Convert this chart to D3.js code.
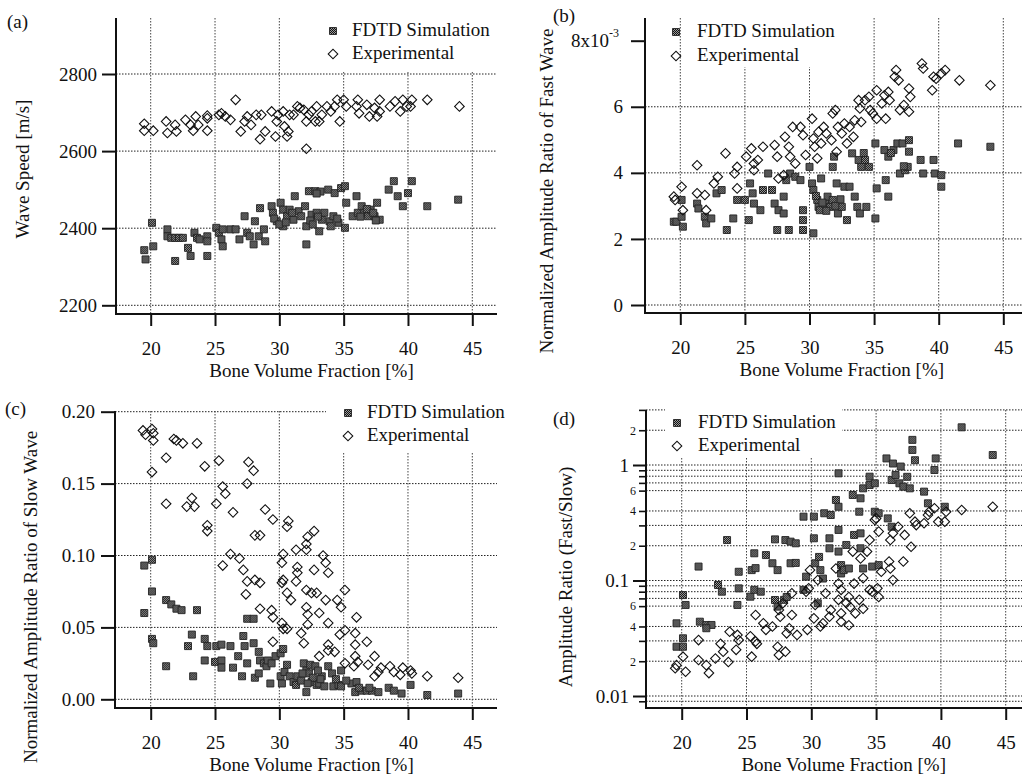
<!DOCTYPE html>
<html><head><meta charset="utf-8">
<script src="https://cdn.jsdelivr.net/npm/d3@7"></script>
<style>
body{margin:0;background:#fff;}
svg{display:block;}
</style></head><body>
<svg id="c" width="1022" height="776"></svg>
<script>
// ---------- data ----------
const xTicks = [20, 25, 30, 35, 40, 45];
const seriesNames = ["FDTD Simulation", "Experimental"];
const xTitle = "Bone Volume Fraction [%]";

// (a) wave speed [m/s]
const aYTicks = [2200, 2400, 2600, 2800];
const aSim = [[19.5,2343],[19.6,2319],[20.1,2414],[20.2,2353],[21.3,2397],[21.3,2379],[21.6,2375],[21.9,2375],[22.2,2375],[22.5,2375],[21.9,2315],[22.9,2349],[23.1,2328],[23.4,2388],[23.6,2375],[23.8,2371],[24.4,2379],[24.4,2366],[24.4,2328],[25.1,2401],[25.3,2388],[25.5,2371],[25.6,2353],[25.6,2397],[26.2,2397],[26.6,2397],[26.9,2371],[27.3,2431],[27.5,2388],[27.7,2379],[28.0,2358],[28.1,2418],[28.5,2452],[28.4,2379],[28.8,2397],[28.9,2366],[29.4,2457],[29.5,2440],[29.8,2418],[30.1,2466],[30.3,2448],[30.3,2405],[30.6,2431],[30.8,2448],[31.1,2422],[31.2,2483],[31.5,2444],[31.7,2431],[32.0,2457],[32.1,2358],[32.1,2405],[32.3,2496],[32.5,2435],[32.8,2496],[32.9,2440],[33.1,2392],[33.3,2422],[33.5,2440],[33.8,2500],[33.9,2418],[34.2,2431],[34.3,2491],[34.6,2414],[34.8,2504],[35.1,2509],[35.1,2401],[35.2,2466],[35.7,2431],[36.0,2483],[36.1,2440],[36.4,2457],[36.6,2440],[36.9,2431],[37.1,2448],[37.4,2431],[37.6,2466],[37.8,2422],[38.5,2500],[38.9,2522],[39.2,2483],[39.6,2457],[40.0,2491],[40.3,2522],[41.5,2457],[43.9,2474],[29.6,2425],[30.0,2410],[30.5,2415],[31.0,2440],[32.4,2420],[32.6,2410],[33.0,2430],[34.0,2405],[34.5,2425],[36.3,2430],[36.8,2450],[37.3,2440],[37.5,2420],[33.2,2495],[32.9,2490]];
const aExp = [[19.5,2671],[19.5,2653],[20.2,2653],[21.2,2677],[21.3,2647],[21.9,2668],[22.0,2651],[22.7,2681],[23.1,2668],[23.3,2653],[23.5,2690],[23.7,2668],[24.4,2685],[24.4,2653],[24.4,2692],[25.3,2694],[25.5,2698],[25.8,2690],[26.2,2681],[26.6,2733],[27.0,2651],[27.3,2677],[27.5,2690],[27.8,2668],[28.2,2694],[28.6,2694],[28.5,2631],[28.9,2651],[29.4,2703],[29.7,2638],[29.8,2677],[29.9,2694],[30.3,2703],[30.4,2664],[30.6,2638],[30.7,2651],[30.8,2694],[31.1,2694],[31.4,2716],[31.6,2712],[31.9,2707],[32.1,2677],[32.1,2606],[32.3,2694],[32.5,2703],[32.8,2677],[32.9,2716],[33.1,2677],[33.3,2694],[33.7,2716],[34.0,2703],[34.3,2716],[34.5,2733],[34.7,2677],[35.0,2733],[35.2,2716],[36.0,2716],[36.1,2733],[36.2,2698],[36.8,2720],[37.0,2690],[37.4,2712],[37.6,2690],[37.8,2733],[37.8,2703],[38.6,2716],[39.0,2729],[39.4,2703],[39.6,2733],[39.9,2716],[40.3,2733],[40.2,2716],[41.5,2733],[44.0,2716]];

// (b) normalized amplitude ratio of fast wave, in units of 10^-3
const bYTicks = [0, 2, 4, 6, 8];
const bSim = [[19.5,2.52],[19.7,2.52],[20.1,3.18],[20.1,2.67],[20.2,2.37],[21.3,3.07],[21.4,2.92],[21.9,2.67],[22.0,2.47],[22.4,2.62],[22.8,3.38],[23.2,3.48],[23.6,2.27],[24.1,2.62],[24.4,3.18],[25.0,3.18],[25.3,2.57],[25.4,3.68],[25.6,3.38],[25.7,3.07],[26.2,2.87],[26.4,3.48],[26.8,3.98],[27.1,3.48],[27.3,3.07],[27.6,2.87],[28.0,2.77],[27.5,2.27],[28.0,3.28],[28.2,3.78],[28.4,2.27],[28.5,3.98],[28.9,3.88],[29.3,3.78],[29.5,2.87],[29.5,2.57],[29.5,2.27],[30.0,4.18],[30.2,3.68],[30.3,3.48],[30.3,2.17],[30.6,3.18],[30.7,2.97],[30.8,2.87],[30.9,3.83],[31.2,3.07],[31.4,3.28],[31.6,2.97],[31.8,3.18],[31.8,4.18],[31.9,4.49],[32.1,3.68],[32.2,2.77],[32.5,2.97],[32.7,3.58],[33.1,3.58],[32.9,2.57],[33.3,4.59],[33.5,3.28],[33.7,2.97],[33.9,2.77],[33.8,4.39],[34.0,4.18],[34.3,4.39],[34.6,4.18],[34.4,2.97],[35.1,4.89],[35.1,2.62],[35.2,3.53],[35.8,4.69],[36.1,4.49],[35.9,3.78],[36.1,3.28],[36.5,4.69],[36.8,4.89],[37.2,4.89],[37.0,3.98],[37.4,4.08],[37.6,4.18],[37.7,4.99],[37.7,4.64],[38.6,4.39],[38.8,3.98],[39.6,4.39],[39.7,3.98],[40.2,3.93],[40.2,3.58],[41.5,4.89],[44.0,4.79],[30.5,3.3],[31.0,3.1],[31.3,2.85],[32.0,3.0],[32.4,3.2],[34.2,4.6],[36.3,4.6],[37.3,4.2]];
const bExp = [[19.5,3.28],[19.6,3.18],[20.1,3.58],[20.2,2.87],[21.3,4.23],[21.3,3.38],[21.9,3.33],[22.0,2.87],[22.6,3.68],[22.9,3.88],[23.5,4.59],[24.2,3.98],[24.4,4.18],[24.4,3.53],[25.1,4.49],[25.5,4.74],[25.7,4.28],[25.7,4.08],[26.0,4.39],[26.4,4.79],[27.3,4.84],[27.5,4.49],[27.6,3.83],[28.0,3.93],[28.1,5.09],[28.4,4.79],[28.5,4.49],[28.7,5.39],[28.9,4.28],[29.3,5.39],[29.5,5.14],[29.7,4.54],[30.2,5.64],[30.3,5.04],[30.4,4.79],[30.6,4.44],[30.7,5.24],[30.9,4.89],[31.1,5.39],[31.3,5.19],[31.7,4.99],[31.8,5.80],[32.0,5.90],[32.1,4.64],[32.2,5.39],[32.5,5.19],[32.7,5.49],[32.9,4.89],[33.1,5.39],[33.4,5.09],[33.5,5.59],[33.8,6.20],[33.9,5.95],[34.0,5.54],[34.3,6.20],[34.6,6.30],[34.7,5.90],[34.9,5.80],[35.2,5.64],[35.2,6.50],[35.6,6.10],[35.8,6.35],[36.1,6.45],[35.9,5.64],[36.2,6.20],[36.6,6.91],[36.7,7.11],[36.9,6.80],[37.0,5.90],[37.3,6.05],[37.7,6.55],[37.7,5.85],[37.8,6.30],[38.7,7.31],[38.8,7.16],[39.5,6.50],[39.6,6.91],[39.8,6.85],[40.2,7.01],[40.5,7.11],[41.6,6.80],[44.0,6.65]];

// (c) normalized amplitude ratio of slow wave
const cYTicks = [0, 0.05, 0.10, 0.15, 0.20];
const cSim = [[19.5,0.093],[20.1,0.097],[19.5,0.060],[20.1,0.075],[20.1,0.042],[20.2,0.039],[21.2,0.069],[21.6,0.066],[22.0,0.063],[22.4,0.062],[21.2,0.023],[22.9,0.037],[23.2,0.045],[23.3,0.016],[23.6,0.062],[24.2,0.042],[24.4,0.037],[24.2,0.027],[25.1,0.037],[25.5,0.038],[26.2,0.037],[25.0,0.026],[25.5,0.027],[25.5,0.022],[26.4,0.022],[26.8,0.030],[27.1,0.016],[27.2,0.044],[27.3,0.037],[27.5,0.025],[27.5,0.056],[28.0,0.056],[28.0,0.039],[28.1,0.015],[28.4,0.033],[28.5,0.027],[28.8,0.025],[28.4,0.018],[29.0,0.023],[29.1,0.027],[29.4,0.025],[29.3,0.011],[29.7,0.030],[30.1,0.032],[30.3,0.035],[30.1,0.016],[30.2,0.011],[30.4,0.019],[30.6,0.024],[30.8,0.016],[31.1,0.012],[31.3,0.010],[31.4,0.016],[31.7,0.013],[31.9,0.025],[32.1,0.020],[32.1,0.005],[32.4,0.024],[32.8,0.023],[32.5,0.012],[32.9,0.010],[33.1,0.011],[33.3,0.016],[33.5,0.009],[33.8,0.023],[34.1,0.018],[34.2,0.009],[34.6,0.010],[34.8,0.009],[34.8,0.020],[35.6,0.011],[36.0,0.012],[35.9,0.005],[36.4,0.006],[36.8,0.006],[37.2,0.006],[37.7,0.005],[38.5,0.008],[38.9,0.006],[39.5,0.004],[40.2,0.010],[41.5,0.003],[43.9,0.004],[32.3,0.018],[32.6,0.015],[33.0,0.020],[33.2,0.014],[34.4,0.014],[35.2,0.013],[36.2,0.008],[37.0,0.008],[31.8,0.018],[32.2,0.011]];
const cExp = [[19.4,0.187],[19.6,0.184],[20.1,0.188],[20.2,0.185],[20.2,0.180],[20.1,0.158],[21.2,0.168],[21.2,0.136],[21.8,0.181],[22.0,0.180],[22.5,0.178],[23.6,0.178],[22.8,0.134],[23.2,0.140],[23.4,0.134],[24.2,0.162],[24.4,0.121],[24.4,0.117],[25.3,0.166],[25.1,0.136],[25.6,0.148],[25.8,0.143],[25.6,0.093],[26.2,0.101],[26.4,0.130],[26.9,0.098],[27.2,0.090],[27.5,0.150],[27.5,0.082],[27.4,0.073],[27.6,0.165],[28.0,0.159],[28.1,0.114],[28.5,0.114],[28.1,0.083],[28.5,0.081],[28.5,0.063],[28.9,0.132],[29.4,0.062],[29.5,0.057],[29.5,0.040],[29.5,0.125],[30.2,0.095],[30.3,0.101],[30.2,0.081],[30.3,0.083],[30.2,0.053],[30.3,0.049],[30.6,0.120],[30.7,0.124],[30.6,0.074],[30.6,0.049],[30.9,0.069],[31.3,0.104],[31.3,0.082],[31.4,0.092],[31.4,0.088],[31.7,0.046],[31.9,0.039],[32.1,0.108],[32.2,0.113],[32.1,0.104],[32.1,0.076],[32.1,0.064],[32.2,0.059],[32.2,0.052],[32.5,0.074],[32.7,0.117],[32.7,0.090],[32.9,0.074],[33.1,0.060],[33.1,0.030],[33.4,0.100],[33.6,0.095],[33.8,0.088],[33.6,0.069],[33.8,0.053],[33.8,0.038],[33.8,0.034],[34.3,0.033],[34.5,0.069],[34.7,0.045],[34.8,0.064],[35.1,0.076],[35.1,0.048],[35.1,0.025],[35.9,0.046],[36.0,0.057],[35.9,0.038],[35.9,0.030],[36.1,0.026],[35.8,0.023],[36.8,0.040],[36.9,0.024],[37.4,0.030],[37.4,0.016],[37.7,0.019],[37.9,0.022],[38.6,0.023],[38.9,0.019],[39.4,0.017],[39.6,0.022],[40.2,0.020],[40.3,0.018],[41.5,0.016],[43.9,0.015]];

// (d) amplitude ratio fast/slow (log)
const dMajorTicks = [1, 0.1, 0.01];
const dMinorTicks = [3, 2, 0.9, 0.8, 0.7, 0.6, 0.4, 0.3, 0.2, 0.09, 0.08, 0.07, 0.06, 0.04, 0.03, 0.02, 0.009];
const dGrid = [3, 2, 1, 0.9, 0.8, 0.7, 0.6, 0.4, 0.3, 0.2, 0.1, 0.09, 0.08, 0.07, 0.06, 0.04, 0.03, 0.02, 0.01, 0.009];
const dSim = [[19.6,0.0426],[19.6,0.0267],[20.1,0.0316],[20.1,0.0267],[20.1,0.0748],[20.3,0.0614],[21.3,0.132],[21.4,0.044],[21.9,0.0412],[22.3,0.0412],[21.9,0.0386],[22.8,0.0914],[23.1,0.080],[23.5,0.224],[24.3,0.0614],[24.4,0.119],[24.4,0.0855],[25.3,0.0724],[25.4,0.123],[25.6,0.172],[25.7,0.128],[25.6,0.083],[26.1,0.080],[26.5,0.166],[27.0,0.141],[27.2,0.227],[27.4,0.123],[27.2,0.0678],[27.4,0.0594],[27.9,0.068],[28.1,0.072],[28.0,0.224],[28.4,0.217],[28.8,0.21],[28.4,0.141],[28.8,0.142],[29.4,0.083],[29.6,0.108],[29.4,0.357],[30.2,0.357],[30.2,0.232],[30.3,0.141],[30.6,0.16],[30.7,0.123],[30.5,0.0635],[30.9,0.104],[31.0,0.382],[31.4,0.232],[31.5,0.369],[31.4,0.19],[31.9,0.498],[32.1,0.847],[32.1,0.435],[32.1,0.274],[32.1,0.178],[32.3,0.136],[32.3,0.115],[32.5,0.123],[32.9,0.127],[32.7,0.203],[33.2,0.55],[33.3,0.248],[33.7,0.394],[33.8,0.515],[33.8,0.256],[33.8,0.19],[34.0,0.628],[34.0,0.127],[34.5,0.792],[34.5,0.671],[34.9,0.694],[34.9,0.394],[35.2,0.382],[34.7,0.132],[35.2,0.136],[35.8,1.14],[35.9,0.345],[36.2,0.292],[36.3,1.03],[36.9,0.97],[36.2,0.741],[36.5,0.819],[36.8,0.694],[37.1,0.649],[37.4,0.79],[37.6,0.628],[37.8,1.65],[37.8,1.35],[38.0,1.1],[38.7,0.588],[39.0,0.466],[39.5,0.905],[39.6,1.14],[40.3,0.435],[41.6,2.12],[44.0,1.22]];
const dExp = [[19.5,0.0174],[19.6,0.0185],[20.1,0.0219],[20.3,0.0162],[21.3,0.0305],[21.3,0.0205],[21.9,0.0185],[22.1,0.0158],[22.6,0.0211],[23.0,0.0283],[23.2,0.0242],[23.6,0.0197],[23.7,0.036],[24.3,0.0338],[24.4,0.0305],[24.2,0.0251],[25.3,0.0329],[25.4,0.0219],[25.7,0.0503],[25.7,0.0297],[25.8,0.0283],[26.3,0.0426],[26.5,0.0374],[27.0,0.040],[27.4,0.0267],[27.5,0.0226],[27.5,0.0556],[27.6,0.0486],[27.8,0.0636],[28.0,0.0242],[28.1,0.0349],[28.3,0.0386],[28.5,0.0503],[28.5,0.0775],[28.9,0.0338],[29.6,0.080],[29.7,0.0374],[29.8,0.0855],[29.9,0.123],[30.2,0.047],[30.5,0.101],[30.3,0.0614],[30.7,0.040],[30.9,0.0426],[31.1,0.0775],[31.4,0.0486],[31.5,0.0556],[31.9,0.127],[32.1,0.094],[32.3,0.083],[32.1,0.068],[32.3,0.052],[32.3,0.044],[32.7,0.064],[32.9,0.041],[32.9,0.072],[33.0,0.059],[33.2,0.178],[33.3,0.094],[33.4,0.052],[33.7,0.068],[34.0,0.057],[33.8,0.155],[34.0,0.105],[34.3,0.178],[34.5,0.224],[34.5,0.083],[34.9,0.334],[35.0,0.345],[34.7,0.080],[35.1,0.0855],[35.2,0.072],[35.2,0.265],[35.4,0.119],[36.0,0.146],[36.1,0.127],[36.3,0.101],[36.1,0.224],[36.3,0.256],[36.7,0.292],[37.1,0.146],[37.2,0.248],[37.6,0.382],[37.7,0.196],[38.0,0.323],[38.1,0.302],[38.7,0.313],[39.0,0.369],[39.1,0.394],[39.5,0.422],[39.8,0.323],[40.3,0.323],[40.4,0.394],[41.6,0.408],[44.0,0.435]];

// ---------- drawing ----------
const FONT = "Liberation Serif";
const svg = d3.select("#c").attr("font-family", FONT);
const defs = svg.append("defs");
const pat = defs.append("pattern").attr("id","chk").attr("width",2).attr("height",2).attr("patternUnits","userSpaceOnUse");
pat.append("rect").attr("width",2).attr("height",2).attr("fill","#9a9a9a");
pat.append("rect").attr("width",1).attr("height",1).attr("fill","#111");
pat.append("rect").attr("x",1).attr("y",1).attr("width",1).attr("height",1).attr("fill","#111");

const FS = 19;
const sqPath = d3.symbol(d3.symbolSquare, 49)();
const diaPath = d3.symbol(d3.symbolSquare, 46)();

function drawSim(g, x, y, data){
  g.append("g").selectAll("path").data(data).join("path")
    .attr("d", sqPath)
    .attr("transform", d => `translate(${x(d[0])},${y(d[1])})`)
    .attr("fill","url(#chk)").attr("stroke","#222").attr("stroke-width",0.9);
}
function drawExp(g, x, y, data){
  g.append("g").selectAll("path").data(data).join("path")
    .attr("d", diaPath)
    .attr("transform", d => `translate(${x(d[0])},${y(d[1])}) rotate(45)`)
    .attr("fill","none").attr("stroke","#111").attr("stroke-width",1.1);
}
function gridStyle(sel){
  sel.attr("stroke","#222").attr("stroke-width",1).attr("stroke-dasharray","1.5,1.5");
}
function txt(sel, size){
  return sel.attr("font-family", FONT).attr("font-size", size || FS).attr("fill","#111");
}

function panel(p){
  const g = svg.append("g");
  const x = d3.scaleLinear().domain([20,45]).range(p.xr);
  const y = p.log ? d3.scaleLog().domain([0.01,1]).range(p.yr) : d3.scaleLinear().domain(p.yd).range(p.yr);

  g.append("g").selectAll("line").data(p.hGrid).join("line")
    .attr("x1", p.left).attr("x2", p.right)
    .attr("y1", d => y(d)).attr("y2", d => y(d)).call(gridStyle);
  g.append("g").selectAll("line").data(xTicks).join("line")
    .attr("x1", d => x(d)).attr("x2", d => x(d))
    .attr("y1", p.top).attr("y2", p.bottom).call(gridStyle).attr("stroke","#444");

  g.append("rect").attr("x", p.lbg[0]).attr("y", p.lbg[1]).attr("width", p.lbg[2]).attr("height", p.lbg[3]).attr("fill","#fff");

  const xa = g.append("g").attr("transform", `translate(0,${p.bottom})`)
    .call(d3.axisBottom(x).tickValues(xTicks).tickSize(12).tickPadding(15.5));
  const ya = g.append("g").attr("transform", `translate(${p.left},0)`)
    .call(d3.axisLeft(y).tickValues(p.yTicks).tickSize(p.tickLen || 14).tickPadding(p.ypad).tickFormat(p.fmt));
  [xa, ya].forEach(a => {
    a.attr("font-family", FONT);
    a.select(".domain").remove();
    a.selectAll("line").attr("stroke","#111").attr("stroke-width",2);
    txt(a.selectAll("text"));
  });
  if (p.minor){
    const ma = g.append("g").attr("transform", `translate(${p.left},0)`)
      .call(d3.axisLeft(y).tickValues(p.minor).tickSize(7).tickPadding(3).tickFormat(p.minorFmt));
    ma.attr("font-family", FONT);
    ma.select(".domain").remove();
    ma.selectAll("line").attr("stroke","#111").attr("stroke-width",1.6);
    txt(ma.selectAll("text"), 12);
  }
  if (p.extra) p.extra(ya);

  g.append("line").attr("x1", p.left).attr("x2", p.left).attr("y1", p.top).attr("y2", p.bottom)
    .attr("stroke","#111").attr("stroke-width",2);
  g.append("line").attr("x1", p.left - 1).attr("x2", p.right).attr("y1", p.bottom).attr("y2", p.bottom)
    .attr("stroke","#111").attr("stroke-width",2);

  drawSim(g, x, y, p.sim);
  drawExp(g, x, y, p.exp);

  const L = p.leg;
  g.append("path").attr("d", sqPath).attr("transform", `translate(${L.mx},${L.y1 - 5})`)
    .attr("fill","url(#chk)").attr("stroke","#222").attr("stroke-width",0.9);
  g.append("path").attr("d", diaPath).attr("transform", `translate(${L.mx},${L.y2 - 5}) rotate(45)`)
    .attr("fill","none").attr("stroke","#111").attr("stroke-width",1.1);
  txt(g.append("text").attr("x", L.tx).attr("y", L.y1)).text(seriesNames[0]);
  txt(g.append("text").attr("x", L.tx).attr("y", L.y2)).text(seriesNames[1]);

  txt(g.append("text").attr("x", (x(20)+x(45))/2).attr("y", p.bottom + 63).attr("text-anchor","middle")).text(xTitle);
  txt(g.append("text").attr("transform", `translate(${p.yt[0]},${p.yt[1]}) rotate(-90)`).attr("text-anchor","middle")
    .attr("dy","0.35em")).text(p.yTitle);
  txt(g.append("text").attr("x", p.lab[0]).attr("y", p.lab[1])).text(p.label);
}

panel({
  label:"(a)", lab:[7,28], left:116, right:497, top:18, bottom:314,
  xr:[150.7,472.3], yd:[2200,2800], yr:[305.3,74],
  hGrid:aYTicks, yTicks:aYTicks, ypad:5, fmt:d3.format("d"),
  lbg:[318,18,179,53],
  leg:{mx:333, tx:352, y1:36, y2:59},
  yTitle:"Wave Speed [m/s]", yt:[22,169],
  sim:aSim, exp:aExp
});
panel({
  label:"(b)", lab:[553,22], left:645, right:1022, top:18, bottom:313,
  xr:[680.3,1003.3], yd:[0,8], yr:[305,40.7],
  hGrid:[0,2,4,6], yTicks:bYTicks, ypad:8,
  fmt:d => d === 8 ? "" : String(d),
  extra: ya => {
    const t = txt(ya.append("text").attr("x",-26).attr("y",47).attr("text-anchor","end"));
    t.append("tspan").text("8x10");
    t.append("tspan").attr("dy",-10).attr("font-size",12).text("-3");
  },
  lbg:[684,18,156,49],
  leg:{mx:676, tx:697, y1:37, y2:61},
  yTitle:"Normalized Amplitude Ratio of Fast Wave", yt:[546,191],
  sim:bSim, exp:bExp
});
panel({
  label:"(c)", lab:[5,415], left:115, right:497, top:411, bottom:708,
  xr:[150.7,472.3], yd:[0,0.2], yr:[699.3,411.7],
  hGrid:cYTicks, yTicks:cYTicks, ypad:6, fmt:d3.format(".2f"),
  lbg:[326,399,171,53],
  leg:{mx:348, tx:367, y1:418, y2:441},
  yTitle:"Normalized Amplitude Ratio of Slow Wave", yt:[30,597],
  sim:cSim, exp:cExp
});
panel({
  label:"(d)", lab:[553,425], left:646, right:1022, top:410, bottom:708, log:true,
  xr:[681.7,1005.7], yr:[696,465],
  hGrid:dGrid, yTicks:dMajorTicks, ypad:4, tickLen:13, fmt:d => String(d),
  minor:dMinorTicks,
  minorFmt:d => { const m = Math.round(d / Math.pow(10, Math.floor(Math.log10(d) + 1e-9))); return [2,4,6].includes(m) ? String(m) : ""; },
  lbg:[665,404,177,54],
  leg:{mx:677, tx:698, y1:428, y2:451},
  yTitle:"Amplitude Ratio (Fast/Slow)", yt:[565,577],
  sim:dSim, exp:dExp
});
</script>
</body></html>
